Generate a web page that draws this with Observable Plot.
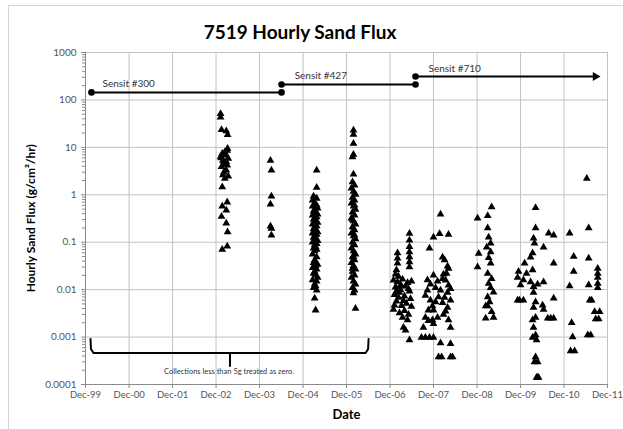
<!DOCTYPE html>
<html><head><meta charset="utf-8">
<script src="https://cdn.jsdelivr.net/npm/d3@7"></script>
<script src="https://cdn.jsdelivr.net/npm/@observablehq/plot@0.6"></script>
<style>
body{margin:0;background:#fff;}
#chart{position:relative;width:623px;height:429px;overflow:hidden;font-family:Lato,"Open Sans",sans-serif;background:#fff;}
#border{position:absolute;left:8px;top:5px;width:700px;height:600px;border:1px solid #d4d4d4;pointer-events:none}
#title{height:44px;box-sizing:border-box;padding-top:21px;padding-right:23px;line-height:22px;text-align:center;font-weight:bold;font-size:19px;color:#000}
</style></head><body>
<div id="chart"><div id="border"></div><div id="title">7519 Hourly Sand Flux</div></div>
<script>
// Tick positions / labels
const yearTicks = ["1999-12-01","2000-12-01","2001-12-01","2002-12-01","2003-12-01","2004-12-01","2005-12-01","2006-12-01","2007-12-01","2008-12-01","2009-12-01","2010-12-01","2011-12-01"];
const yTicks = [0.0001, 0.001, 0.01, 0.1, 1, 10, 100, 1000];
const yTickLabels = ["0.0001","0.001","0.01","0.1","1","10","100","1000"];

// Samples: [date, hourly sand flux]
const sensit300Samples = [
 ["2003-01-08",51],["2003-01-08",43],["2003-01-16",23.6],["2003-02-25",22],["2003-03-08",18.5],
 ["2003-03-05",8.6],["2003-01-22",7.4],["2003-02-19",6.8],["2003-01-08",6.3],["2003-03-14",5.8],
 ["2003-02-05",4.9],["2003-03-05",4.2],["2003-01-16",3.9],["2003-02-25",3.3],["2003-01-28",2.6],
 ["2003-03-14",2.45],["2003-02-13",2.2],["2003-01-22",1.46],["2003-03-05",0.70],["2003-01-22",0.57],
 ["2003-02-25",0.47],["2003-01-16",0.35],["2003-02-25",0.25],["2003-03-08",0.165],["2003-01-22",0.070],
 ["2003-03-05",0.082],["2003-02-13",8.0],["2003-01-28",5.3],["2003-02-19",4.5],["2003-02-05",3.0],
 ["2003-03-08",9.5],["2003-01-16",6.0],["2003-02-25",5.0],
 ["2004-03-02",5.3],["2004-03-10",3.3],["2004-03-10",0.93],["2004-03-02",0.63],["2004-03-02",0.217],
 ["2004-03-10",0.194],["2004-03-10",0.14]
];
const sensit427Samples = [
 ["2005-03-25",3.3],["2005-03-25",1.42],["2005-02-27",0.93],["2005-03-25",0.84],["2005-02-19",0.77],
 ["2005-03-08",0.65],["2005-03-25",0.6],["2005-02-19",0.57],["2005-04-02",0.52],["2005-03-08",0.49],
 ["2005-02-27",0.45],["2005-03-16",0.43],["2005-04-02",0.39],["2005-02-19",0.37],["2005-03-25",0.34],
 ["2005-03-08",0.32],["2005-02-27",0.3],["2005-03-16",0.28],["2005-04-02",0.26],["2005-02-19",0.24],
 ["2005-03-25",0.22],["2005-03-08",0.21],["2005-02-27",0.19],["2005-03-16",0.18],["2005-04-02",0.165],
 ["2005-02-19",0.155],["2005-03-25",0.145],["2005-03-08",0.135],["2005-02-27",0.125],["2005-03-16",0.117],
 ["2005-04-02",0.108],["2005-02-19",0.1],["2005-03-25",0.093],["2005-03-08",0.087],["2005-03-16",0.08],
 ["2005-02-27",0.075],["2005-03-25",0.07],["2005-03-08",0.065],["2005-02-19",0.056],["2005-03-25",0.049],
 ["2005-03-08",0.042],["2005-02-27",0.037],["2005-04-02",0.034],["2005-03-16",0.032],["2005-02-19",0.029],
 ["2005-03-25",0.027],["2005-03-08",0.024],["2005-02-27",0.022],["2005-03-16",0.02],["2005-04-02",0.018],
 ["2005-02-19",0.016],["2005-03-25",0.015],["2005-03-08",0.013],["2005-03-16",0.012],["2005-02-27",0.011],
 ["2005-03-25",0.0097],["2005-03-08",0.0066],["2005-03-16",0.0037],
 ["2006-01-28",23],["2006-01-28",18.7],["2006-01-28",12],["2006-01-28",7.1],["2006-01-20",6.3],
 ["2006-01-28",2.7],["2006-01-20",1.87],["2006-02-06",1.59],["2006-01-11",1.37],["2006-01-28",1.18],
 ["2006-02-14",1.02],["2006-01-20",0.88],["2006-02-06",0.77],["2006-01-11",0.66],["2006-01-28",0.57],
 ["2006-02-14",0.49],["2006-01-20",0.43],["2006-02-06",0.37],["2006-01-11",0.32],["2006-01-28",0.28],
 ["2006-02-14",0.24],["2006-01-20",0.21],["2006-02-06",0.18],["2006-01-11",0.155],["2006-01-28",0.135],
 ["2006-02-14",0.117],["2006-01-20",0.1],["2006-02-06",0.087],["2006-01-11",0.075],["2006-01-28",0.065],
 ["2006-02-14",0.056],["2006-01-20",0.049],["2006-02-06",0.042],["2006-01-11",0.037],["2006-01-28",0.032],
 ["2006-02-14",0.027],["2006-01-20",0.024],["2006-02-06",0.02],["2006-01-11",0.018],["2006-01-28",0.015],
 ["2006-02-14",0.013],["2006-01-20",0.011],["2006-02-06",0.0097],["2006-01-28",0.0085],["2006-02-14",0.004],
 ["2006-02-06",0.6],["2006-01-20",0.3],["2006-02-06",0.14],["2006-01-28",0.05],["2006-01-20",0.028],
 ["2007-05-13",0.152],["2007-05-13",0.11],["2007-05-13",0.08],["2007-05-13",0.0625],["2007-05-13",0.049],
 ["2007-05-13",0.0385],["2007-05-13",0.03],["2007-02-02",0.059],["2007-02-02",0.046],["2007-02-02",0.036],
 ["2007-01-24",0.026],["2007-02-10",0.019],["2006-12-30",0.0158],["2007-02-02",0.0145],["2007-03-16",0.0165],
 ["2007-04-27",0.014],["2007-05-30",0.015],["2007-01-16",0.0113],["2007-02-27",0.0098],["2007-04-10",0.0118],
 ["2007-05-13",0.0093],["2007-01-07",0.0078],["2007-02-10",0.0068],["2007-04-01",0.0073],["2007-05-22",0.0064],
 ["2007-01-24",0.0057],["2007-03-07",0.0046],["2007-04-18",0.0051],["2007-05-30",0.0044],["2006-12-30",0.0038],
 ["2007-02-18",0.0032],["2007-04-01",0.0036],["2007-05-05",0.003],["2007-03-16",0.0026],["2007-04-27",0.0023],
 ["2007-03-24",0.0016],["2007-04-10",0.0014],["2007-05-13",0.00087],["2007-01-16",0.021],["2007-03-07",0.012],
 ["2007-02-18",0.0087],["2007-03-24",0.0058],["2007-01-07",0.0047],["2007-05-05",0.0105],["2007-02-27",0.0125],
 ["2007-01-24",0.0092]
];
const sensit710Samples = [
 ["2008-01-29",0.39],["2007-12-01",0.127],["2008-01-21",0.15],["2008-04-05",0.146],["2007-10-28",0.075],
 ["2008-02-15",0.048],["2008-03-03",0.042],["2008-03-28",0.031],["2007-12-01",0.02],["2007-10-11",0.0097],
 ["2007-11-05",0.006],["2007-10-19",0.0037],["2007-09-24",0.0026],["2007-12-01",0.0019],["2007-09-07",0.0016],
 ["2008-02-15",0.017],["2008-03-11",0.0158],["2008-04-05",0.0124],["2008-01-29",0.0097],["2008-03-28",0.0087],
 ["2008-04-22",0.006],["2008-02-15",0.0053],["2008-03-28",0.0042],["2008-02-23",0.003],["2008-04-05",0.0023],
 ["2008-04-22",0.0016],["2007-12-18",0.0055],["2007-12-01",0.0037],["2008-01-04",0.0026],["2007-11-22",0.0023],
 ["2007-08-22",0.00098],["2007-09-24",0.00098],["2007-10-28",0.00098],["2007-12-01",0.00098],
 ["2008-01-29",0.00075],["2008-04-22",0.00072],["2008-01-12",0.00038],["2008-02-07",0.00038],
 ["2008-04-22",0.00038],["2008-05-09",0.00038],["2007-11-05",0.013],["2007-10-11",0.016],["2007-09-24",0.0075],
 ["2007-12-18",0.011],["2008-01-12",0.007],["2008-03-03",0.0068],["2008-01-04",0.015],["2008-04-22",0.0105],
 ["2007-11-22",0.0045],["2008-03-11",0.0035],["2007-10-19",0.0022],["2008-02-23",0.021],["2008-04-05",0.028],
 ["2008-03-20",0.022],
 ["2008-12-05",0.32],["2008-12-14",0.058],["2008-12-05",0.03],["2009-04-02",0.55],["2009-02-28",0.36],
 ["2009-02-28",0.2],["2009-03-08",0.127],["2009-03-25",0.095],["2009-02-20",0.078],["2009-03-25",0.062],
 ["2009-03-08",0.047],["2009-03-25",0.036],["2009-02-28",0.022],["2009-04-02",0.017],["2009-03-08",0.0135],
 ["2009-03-25",0.011],["2009-04-18",0.0088],["2009-02-28",0.007],["2009-03-16",0.0055],["2009-02-11",0.0045],
 ["2009-02-28",0.0045],["2009-04-02",0.0034],["2009-04-18",0.0026],["2009-02-11",0.0025],
 ["2010-04-06",0.53],["2010-04-06",0.2],["2010-03-20",0.121],["2010-03-28",0.095],["2010-03-12",0.059],
 ["2010-02-23",0.048],["2010-06-12",0.078],["2010-09-05",0.036],["2010-07-25",0.155],["2010-09-05",0.14],
 ["2010-01-04",0.036],["2010-01-20",0.022],["2010-03-12",0.026],["2009-11-14",0.024],["2009-11-06",0.018],
 ["2009-12-25",0.016],["2010-02-23",0.0145],["2010-04-23",0.013],["2009-12-01",0.0125],["2010-03-20",0.0115],
 ["2010-06-12",0.0145],["2009-11-06",0.006],["2009-11-22",0.006],["2009-12-25",0.006],["2010-03-20",0.0087],
 ["2010-04-06",0.0055],["2010-03-20",0.0042],["2010-04-06",0.0026],["2010-03-12",0.0023],["2010-06-04",0.0047],
 ["2010-06-12",0.0038],["2010-07-17",0.0025],["2010-08-11",0.0025],["2010-09-05",0.0025],["2010-09-05",0.0066],
 ["2010-03-20",0.0016],["2010-04-06",0.0011],["2010-03-12",0.00098],["2010-04-14",0.00087],["2010-04-06",0.00038],
 ["2010-04-23",0.0003],["2010-03-28",0.0003],["2010-04-14",0.00014],["2010-04-23",0.00014],["2010-05-01",0.00014],
 ["2011-01-17",0.155],["2011-06-26",0.2],["2011-02-20",0.05],["2011-02-20",0.024],["2011-01-17",0.012],
 ["2011-06-26",0.046],["2011-06-26",0.0125],["2011-09-10",0.028],["2011-09-10",0.022],["2011-09-10",0.018],
 ["2011-09-10",0.0135],["2011-09-10",0.011],["2011-07-05",0.006],["2011-07-21",0.006],["2011-08-15",0.0034],
 ["2011-09-26",0.0034],["2011-08-24",0.0024],["2011-09-18",0.0024],["2011-02-03",0.002],["2011-02-11",0.001],
 ["2011-01-25",0.00051],["2011-02-28",0.00051],["2011-06-18",0.0011],["2011-07-13",0.0011],["2011-06-10",2.2]
];

// Sensor periods
const sensitNames = ["Sensit #300", "Sensit #427", "Sensit #710"];
const sensitStart = ["2000-01-20", "2004-06-03", "2007-07-03"];
const sensitEnd = ["2004-06-03", "2007-07-03", "2011-08-21"];
const sensitLevel = [144, 212, 312];
const sensitLabelDate = ["2000-04-22", "2004-09-21", "2007-10-20"];
const sensitLabelLevel = [222, 328, 460];

// Brace annotation
const braceMain = [["2000-01-12",0.00091],["2000-01-16",0.00056],["2000-02-06",0.00046],["2006-05-10",0.00046],["2006-05-31",0.00056],["2006-06-04",0.00091]];
const braceTip = [["2003-03-28",0.00046],["2003-03-28",0.000245]];
const braceNote = "Collections less than 5g treated as zero.";
const braceNoteDate = "2003-03-20";
const braceNoteLevel = 0.000185;

// Axis titles (placed in data space, outside the frame)
const yTitle = "Hourly Sand Flux (g/cm²/hr)";
const yTitleDate = "1998-09-02";
const yTitleLevel = 0.32;

const yMinor = d3.range(-4, 3).flatMap(e => d3.range(2, 10).map(m => m * Math.pow(10, e)));
const D = s => new Date(s + "T00:00:00Z");
const xTicks = yearTicks.map(D);
const samples = [...sensit300Samples, ...sensit427Samples, ...sensit710Samples];
const endpoints = [
  [sensitStart[0], sensitLevel[0]], [sensitEnd[0], sensitLevel[0]],
  [sensitStart[1], sensitLevel[1]], [sensitEnd[1], sensitLevel[1]],
  [sensitStart[2], sensitLevel[2]]
];

const chart = Plot.plot({
  width: 623, height: 385,
  marginLeft: 85, marginRight: 16, marginTop: 8, marginBottom: 45,
  x: {type: "utc", domain: [xTicks[0], xTicks[xTicks.length - 1]]},
  y: {type: "log", domain: [0.0001, 1000]},
  style: {fontFamily: "Lato, 'Open Sans', sans-serif", fontSize: "10px", color: "#555", background: "#fff", overflow: "visible"},
  marks: [
    Plot.ruleX(xTicks, {stroke: "#c2c2c2", strokeWidth: 1}),
    Plot.ruleY(yTicks, {stroke: "#c2c2c2", strokeWidth: 1}),
    Plot.ruleX([xTicks[0]], {stroke: "#8a8a8a", strokeWidth: 1}),
    Plot.ruleY([0.0001], {stroke: "#8a8a8a", strokeWidth: 1}),
    Plot.axisX({ticks: xTicks, tickFormat: d3.utcFormat("%b-%y"), tickSize: 4, tickPadding: 3, label: null, stroke: "#8a8a8a", fill: "#555", fontSize: 9.5}),
    Plot.axisY({ticks: yTicks, tickFormat: d => yTickLabels[yTicks.indexOf(d)], tickSize: 4, tickPadding: 5, label: null, stroke: "#8a8a8a", fill: "#555"}),
    Plot.axisY({ticks: yMinor, tickFormat: () => "", tickSize: 3, label: null, stroke: "#8a8a8a"}),
    Plot.dot(samples, {x: d => D(d[0]), y: d => d[1], symbol: "triangle", r: 2.9, fill: "#000", stroke: "none"}),
    Plot.link([0, 1, 2], {x1: i => D(sensitStart[i]), x2: i => D(sensitEnd[i]), y1: i => sensitLevel[i], y2: i => sensitLevel[i], stroke: "#000", strokeWidth: 2}),
    Plot.dot([2], {x: i => D(sensitEnd[i]), y: i => sensitLevel[i], symbol: "triangle", rotate: 90, r: 3.3, fill: "#000"}),
    Plot.dot(endpoints, {x: d => D(d[0]), y: d => d[1], r: 3.3, fill: "#000"}),
    Plot.text([0, 1, 2], {x: i => D(sensitLabelDate[i]), y: i => sensitLabelLevel[i], text: i => sensitNames[i], textAnchor: "start", fontSize: 10, fill: "#333"}),
    Plot.line(braceMain, {x: d => D(d[0]), y: d => d[1], stroke: "#000", strokeWidth: 2, curve: "linear"}),
    Plot.line(braceTip, {x: d => D(d[0]), y: d => d[1], stroke: "#000", strokeWidth: 2}),
    Plot.text([braceNote], {x: D(braceNoteDate), y: braceNoteLevel, text: d => d, fontSize: 7.5, fill: "#333"}),
    Plot.text([yTitle], {x: D(yTitleDate), y: yTitleLevel, text: d => d, rotate: -90, fontWeight: "bold", fontSize: 12, fill: "#000"}),
    Plot.text(["Date"], {frameAnchor: "bottom", dy: 34, text: d => d, fontWeight: "bold", fontSize: 13, fill: "#000"})
  ]
});
document.getElementById("chart").appendChild(chart);
</script></body></html>
